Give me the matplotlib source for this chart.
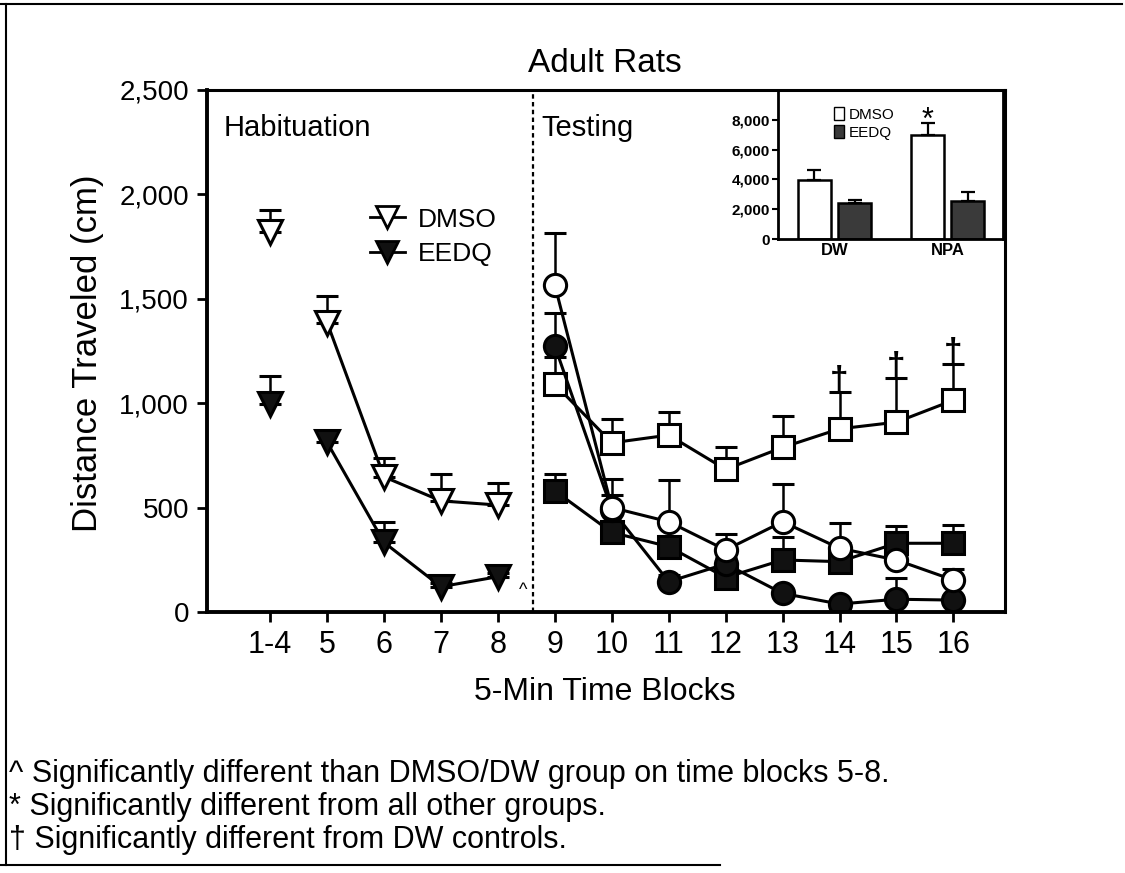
import matplotlib
matplotlib.use('Agg')
import matplotlib.pyplot as plt
from matplotlib.lines import Line2D
from matplotlib.patches import Patch

plt.rcParams['font.family'] = ['Liberation Sans', 'DejaVu Sans']

# x軸のカテゴリ (5分ごとの時間ブロック)
blocks = ['1-4', '5', '6', '7', '8', '9', '10', '11', '12', '13', '14', '15', '16']

# Habituation (1-4, 5, 6, 7, 8)
hab_dmso = [1820, 1386, 647, 532, 512]
hab_dmso_sem = [107, 126, 91, 127, 107]
hab_eedq = [995, 812, 333, 121, 169]
hab_eedq_sem = [134, 51, 99, 20, 20]

# Testing (9-16)
dmso_npa = [1091, 810, 847, 683, 788, 877, 909, 1014]
dmso_npa_sem = [131, 112, 111, 105, 151, 176, 212, 173]
dmso_dw = [1565, 500, 432, 297, 432, 305, 249, 153]
dmso_dw_sem = [248, 135, 200, 76, 180, 119, 60, 51]
eedq_npa = [580, 381, 313, 165, 249, 241, 329, 329]
eedq_npa_sem = [80, 40, 50, 40, 111, 87, 82, 87]
eedq_dw = [1273, 490, 145, 230, 89, 38, 61, 57]
eedq_dw_sem = [160, 70, 30, 30, 20, 20, 100, 20]

y_ticks = [0, 500, 1000, 1500, 2000, 2500]
y_tick_labels = ['0', '500', '1,000', '1,500', '2,000', '2,500']

# 挿入グラフ (合計移動距離)
inset_groups = ['DW', 'NPA']
inset_dmso = [3935, 6980]
inset_dmso_sem = [698, 805]
inset_eedq = [2390, 2565]
inset_eedq_sem = [260, 605]
inset_y_ticks = [0, 2000, 4000, 6000, 8000]
inset_y_labels = ['0', '2,000', '4,000', '6,000', '8,000']

footnotes = [
    '^ Significantly different than DMSO/DW group on time blocks 5-8.',
    '* Significantly different from all other groups.',
    '\u2020 Significantly different from DW controls.',
]


def draw_series(ax, xs, ys, sem, marker, face, ms, line=True):
    ax.errorbar(xs, ys, yerr=[[0] * len(sem), sem], ls='-' if line else 'none',
                marker=marker, ms=ms, mfc=face, mec='black', mew=2.2,
                color='black', lw=2.2, ecolor='black', elinewidth=1.8,
                capsize=8, capthick=1.8)


fig = plt.figure(figsize=(11.25, 8.73), dpi=100)
ax = fig.add_axes([0.184, 0.299, 0.709, 0.598])

x_all = list(range(len(blocks)))
hab_x = x_all[:5]
test_x = x_all[5:]

# habituation (1-4 は単独の点)
draw_series(ax, hab_x[:1], hab_dmso[:1], hab_dmso_sem[:1], 'v', 'white', 17, line=False)
draw_series(ax, hab_x[:1], hab_eedq[:1], hab_eedq_sem[:1], 'v', '#111111', 17, line=False)
draw_series(ax, hab_x[1:], hab_dmso[1:], hab_dmso_sem[1:], 'v', 'white', 17)
draw_series(ax, hab_x[1:], hab_eedq[1:], hab_eedq_sem[1:], 'v', '#111111', 17)

# testing
draw_series(ax, test_x, dmso_npa, dmso_npa_sem, 's', 'white', 16)
draw_series(ax, test_x, eedq_npa, eedq_npa_sem, 's', '#111111', 16)
draw_series(ax, test_x, eedq_dw, eedq_dw_sem, 'o', '#111111', 16)
draw_series(ax, test_x, dmso_dw, dmso_dw_sem, 'o', 'white', 16)

# DW controlsとの有意差
for i in [5, 6, 7]:
    ax.annotate('\u2020', (test_x[i], dmso_npa[i] + dmso_npa_sem[i]),
                xytext=(0, -3), textcoords='offset points',
                ha='center', va='bottom', fontsize=24, fontweight='bold')

ax.annotate('^', (hab_x[4], hab_eedq[4]), xytext=(15, -10), textcoords='offset points',
            ha='left', va='center', fontsize=13)

ax.axvline(4.61, color='black', ls=(0, (2, 1.5)), lw=1.6)
ax.text(-0.82, 2320, 'Habituation', fontsize=21, va='center', ha='left')
ax.text(4.77, 2320, 'Testing', fontsize=21, va='center', ha='left')

ax.set_xlim(-1.11, 12.9)
ax.set_ylim(0, 2500)
ax.set_xticks(x_all)
ax.set_xticklabels(blocks, fontsize=22)
ax.set_yticks(y_ticks)
ax.set_yticklabels(y_tick_labels, fontsize=20)
ax.tick_params(axis='both', direction='out', length=7, width=2, pad=6)
for side in ['left', 'bottom']:
    ax.spines[side].set_linewidth(2.8)
for side in ['top', 'right']:
    ax.spines[side].set_linewidth(2.2)

legend_handles = [
    Line2D([], [], color='black', lw=2, marker='v', ms=16, mfc='white', mec='black', mew=2),
    Line2D([], [], color='black', lw=2, marker='v', ms=16, mfc='#111111', mec='black', mew=2),
]
ax.legend(legend_handles, ['DMSO', 'EEDQ'], loc='upper left', bbox_to_anchor=(0.175, 0.82),
          frameon=False, fontsize=19, handlelength=1.3, handletextpad=0.5, labelspacing=0.4)

# 挿入グラフ
inset = fig.add_axes([0.6916, 0.7262, 0.2, 0.1707])
inset.patch.set_visible(False)
gx = list(range(len(inset_groups)))
w = 0.29
off = 0.178
inset.bar([g - off for g in gx], inset_dmso, w, color='white', edgecolor='black', lw=1.8,
          yerr=[[0, 0], inset_dmso_sem], capsize=5, error_kw={'elinewidth': 1.6, 'capthick': 1.6})
inset.bar([g + off for g in gx], inset_eedq, w, color='#3a3a3a', edgecolor='black', lw=1.8,
          yerr=[[0, 0], inset_eedq_sem], capsize=5, error_kw={'elinewidth': 1.6, 'capthick': 1.6})
inset.annotate('*', (gx[1] - off, inset_dmso[1] + inset_dmso_sem[1]), xytext=(0, -9),
               textcoords='offset points', ha='center', va='bottom', fontsize=22)
inset.set_xlim(-0.5, 1.49)
inset.set_ylim(0, 10000)
inset.set_xticks(gx)
inset.set_xticklabels(inset_groups, fontsize=12, fontweight='bold')
inset.set_yticks(inset_y_ticks)
inset.set_yticklabels(inset_y_labels, fontsize=11, fontweight='bold')
inset.tick_params(axis='x', length=0, pad=3)
inset.tick_params(axis='y', length=4, width=1.5, pad=2)
for side in ['left', 'bottom', 'right']:
    inset.spines[side].set_linewidth(2)
inset.spines['top'].set_visible(False)
inset.legend([Patch(facecolor='white', edgecolor='black'), Patch(facecolor='#3a3a3a', edgecolor='black')],
             ['DMSO', 'EEDQ'], loc='upper left', bbox_to_anchor=(0.2, 0.96), frameon=False,
             fontsize=11, handlelength=0.7, handleheight=1.0, handletextpad=0.3,
             labelspacing=0.2, borderpad=0.2)

# タイトル・軸ラベル
fig.text(605 / 1125, 1 - 63 / 873, 'Adult Rats', fontsize=24, ha='center', va='center')
fig.text(605 / 1125, 1 - 692 / 873, '5-Min Time Blocks', fontsize=23, ha='center', va='center')
fig.text(88 / 1125, 1 - 353 / 873, 'Distance Traveled (cm)', fontsize=25, ha='center',
         va='center', rotation=90)

for i, note in enumerate(footnotes):
    fig.text(0.008, 1 - (774 + 33 * i) / 873, note, fontsize=22, ha='left', va='center')

# 外枠
fig.add_artist(Line2D([0, 0.997], [0.995, 0.995], color='black', lw=1.5))
fig.add_artist(Line2D([0.005, 0.005], [0.009, 0.995], color='black', lw=1.5))
fig.add_artist(Line2D([0.0, 0.64], [0.009, 0.009], color='black', lw=1.5))

fig.savefig('out.png', dpi=100)
